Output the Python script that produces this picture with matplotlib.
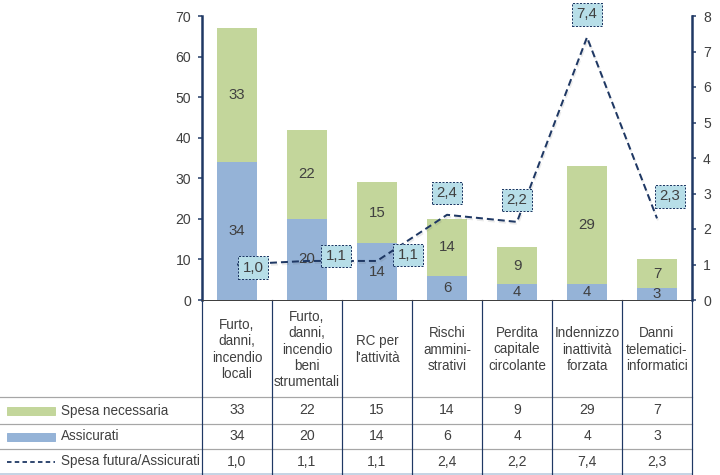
import matplotlib
matplotlib.use("Agg")
import matplotlib.pyplot as plt
import matplotlib.patheffects as pe
from matplotlib import font_manager, transforms
import numpy as np

# pick a narrow sans if the sandbox has one
names = {f.name for f in font_manager.fontManager.ttflist}
fam = "Liberation Sans Narrow" if "Liberation Sans Narrow" in names else "Liberation Sans"
plt.rcParams["font.family"] = [fam, "DejaVu Sans"]

categories = [
    "Furto,\ndanni,\nincendio\nlocali",
    "Furto,\ndanni,\nincendio\nbeni\nstrumentali",
    "RC per\nl'attività",
    "Rischi\nammini-\nstrativi",
    "Perdita\ncapitale\ncircolante",
    "Indennizzo\ninattività\nforzata",
    "Danni\ntelematici-\ninformatici",
]
assicurati = [34, 20, 14, 6, 4, 4, 3]
spesa_necessaria = [33, 22, 15, 14, 9, 29, 7]
spesa_futura = [1.0, 1.1, 1.1, 2.4, 2.2, 7.4, 2.3]

series_names = ["Spesa necessaria", "Assicurati", "Spesa futura/Assicurati"]

green = "#C3D69B"
blue = "#95B3D7"
navy = "#1F3864"
txt = "#404040"
box_fc = "#B7DEE8"

# label box offsets (points) relative to each line point
lbl_off = [(16, -3), (29, 5), (31, 6), (0, 22), (0, 22), (0, 23), (13, 22)]

W, H = 720, 475
fig = plt.figure(figsize=(W / 72, H / 72), dpi=72)

ax = fig.add_axes([202 / W, 175 / H, 490 / W, 284 / H])
x = np.arange(len(categories))
ax.bar(x, assicurati, width=0.57, color=blue, zorder=2)
ax.bar(x, spesa_necessaria, width=0.57, bottom=assicurati, color=green, zorder=2)
for i in range(len(x)):
    ax.text(x[i], assicurati[i] / 2, str(assicurati[i]), ha="center", va="center",
            fontsize=15, color=txt, zorder=3)
    ax.text(x[i], assicurati[i] + spesa_necessaria[i] / 2, str(spesa_necessaria[i]),
            ha="center", va="center", fontsize=15, color=txt, zorder=3)

ax.set_xlim(-0.5, len(x) - 0.5)
ax.set_ylim(0, 70)
ax.set_yticks(range(0, 71, 10))
ax.set_xticks([])
for s in ["top", "right"]:
    ax.spines[s].set_visible(False)
ax.spines["left"].set_color(navy)
ax.spines["left"].set_linewidth(2.5)
ax.spines["bottom"].set_color("#404040")
ax.spines["bottom"].set_linewidth(1)
ax.tick_params(axis="y", length=4, width=1.5, color=navy, labelsize=14,
               labelcolor=txt, pad=7)
ax.patch.set_alpha(0)

ax2 = ax.twinx()
ax2.set_ylim(0, 8)
ax2.set_yticks(range(0, 9))
for s in ["top", "left", "bottom"]:
    ax2.spines[s].set_visible(False)
ax2.spines["right"].set_color(navy)
ax2.spines["right"].set_linewidth(2.5)
ax2.tick_params(axis="y", length=4, width=1.5, color=navy, labelsize=14,
                labelcolor=txt, pad=7)
for t in ax.get_yticklabels() + ax2.get_yticklabels():
    t.set_family(["Liberation Sans", "DejaVu Sans"])
ax2.plot(x, spesa_futura, color=navy, lw=2, ls=(0, (3.5, 2)), zorder=4,
         path_effects=[pe.SimpleLineShadow(offset=(1, -2), alpha=0.12,
                                           shadow_color="#555555"), pe.Normal()])
for i, v in enumerate(spesa_futura):
    ax2.annotate(f"{v:.1f}".replace(".", ","), (x[i], v), xytext=lbl_off[i],
                 textcoords="offset points", ha="center", va="center",
                 fontsize=15, color=txt, zorder=5,
                 bbox=dict(boxstyle="square,pad=0.28", fc=box_fc, ec=navy,
                           lw=1, ls=(0, (2, 1.5))))

# ── data table below the plot ──
tab = fig.add_axes([0, 0, 1, 1], zorder=-1)
tab.set_xlim(0, W)
tab.set_ylim(H, 0)
tab.axis("off")
tr = transforms.blended_transform_factory(ax.transData, tab.transData)

row_y = [300, 397, 424, 449, 474]
for y in row_y[1:-1]:
    tab.plot([0, 692], [y, y], color="#A6A6A6", lw=1.2)
tab.plot([0, 692], [row_y[-1], row_y[-1]], color="#B4C6DC", lw=1.5)
for b in np.arange(-0.5, len(x), 1.0):
    tab.plot([b, b], [row_y[0], row_y[-1]], color=navy, lw=1.2, transform=tr)

for i, cat in enumerate(categories):
    tab.text(x[i], (row_y[0] + row_y[1]) / 2 + 1, cat, ha="center", va="center",
             fontsize=13.5, color=txt, linespacing=1.22, transform=tr)
    rows = [str(spesa_necessaria[i]), str(assicurati[i]),
            f"{spesa_futura[i]:.1f}".replace(".", ",")]
    for r, s in enumerate(rows):
        tab.text(x[i], (row_y[r + 1] + row_y[r + 2]) / 2, s, ha="center",
                 va="center", fontsize=14, color=txt, transform=tr)

# legend keys in the first column
cy = [(row_y[r + 1] + row_y[r + 2]) / 2 for r in range(3)]
tab.add_patch(plt.Rectangle((7, cy[0] - 4), 48, 8, color=green))
tab.add_patch(plt.Rectangle((7, cy[1] - 4), 48, 8, color=blue))
tab.plot([7, 55], [cy[2], cy[2]], color=navy, lw=1.8, ls=(0, (2.5, 1.8)))
for r, name in enumerate(series_names):
    tab.text(61, cy[r], name, ha="left", va="center", fontsize=13.5, color=txt)

fig.savefig("out.png", dpi=72, facecolor="white")
